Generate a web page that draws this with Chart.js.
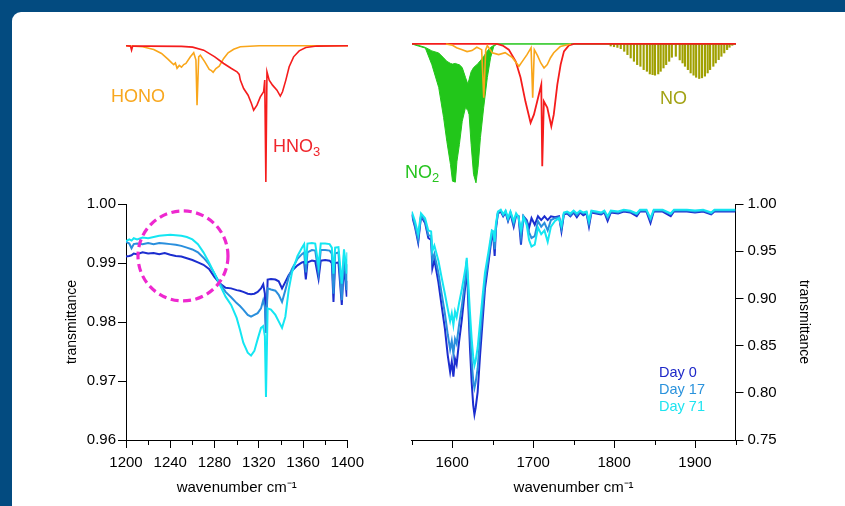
<!DOCTYPE html>
<html>
<head>
<meta charset="utf-8">
<script src="https://cdn.jsdelivr.net/npm/chart.js@4.4.1/dist/chart.umd.min.js"></script>
<style>
  html, body { margin: 0; padding: 0; }
  body { width: 845px; height: 506px; background: #034b80; position: relative; overflow: hidden;
         font-family: "Liberation Sans", Arial, Helvetica, sans-serif; }
  #panel { position: absolute; left: 12px; top: 12px; width: 833px; height: 494px; background: #fff;
           border-top-left-radius: 9px; }
  canvas { position: absolute; }
  .lbl { position: absolute; line-height: 1; white-space: nowrap; }
  .lbl sub { font-size: 0.72em; vertical-align: -0.32em; line-height: 0; }
</style>
</head>
<body>
<div id="panel"></div>
<canvas id="topLeft" width="222" height="147" style="left:126px; top:39px"></canvas>
<canvas id="topRight" width="324" height="150" style="left:412px; top:37px"></canvas>
<canvas id="bottomLeft" width="330" height="316" style="left:40px; top:190px"></canvas>
<canvas id="bottomRight" width="465" height="316" style="left:380px; top:190px"></canvas>

<div class="lbl" style="left:111px; top:87px; font-size:18px; color:#f8a71e">HONO</div>
<div class="lbl" style="left:273px; top:137px; font-size:18px; color:#f0262c">HNO<sub>3</sub></div>
<div class="lbl" style="left:405px; top:163px; font-size:18px; color:#26c41f">NO<sub>2</sub></div>
<div class="lbl" style="left:660px; top:89px; font-size:18px; color:#a2a214">NO</div>
<div class="lbl" style="left:659px; top:365px; font-size:14.5px; color:#1e28c8">Day 0</div>
<div class="lbl" style="left:659px; top:382px; font-size:14.5px; color:#2a92dc">Day 17</div>
<div class="lbl" style="left:659px; top:399px; font-size:14.5px; color:#1ee4f0">Day 71</div>

<script>
// reference spectra, relative transmittance (1 = baseline)
const honoLowX = [1200, 1215, 1225, 1232, 1238, 1241, 1243, 1244.5, 1246, 1248, 1250, 1252, 1254, 1258, 1261, 1263, 1264, 1265.5, 1267, 1271, 1275, 1277, 1278.5, 1281, 1284, 1288, 1292, 1297, 1303, 1320, 1400];
const honoLowY = [1.0, 0.993, 0.973, 0.944, 0.900, 0.876, 0.862, 0.874, 0.835, 0.856, 0.843, 0.862, 0.870, 0.919, 0.949, 0.895, 0.564, 0.919, 0.931, 0.882, 0.826, 0.818, 0.806, 0.833, 0.850, 0.907, 0.949, 0.975, 0.993, 1.0, 1.0];

const hno3LowX = [1200, 1204, 1205, 1206, 1220, 1250, 1260, 1270, 1280, 1288, 1295, 1300, 1302, 1303, 1306, 1310, 1313, 1315, 1318, 1321, 1324, 1325, 1326, 1327, 1329, 1332, 1336, 1339, 1341, 1344, 1347, 1351, 1356, 1362, 1372, 1400];
const hno3LowY = [1.0, 0.998, 0.968, 0.998, 0.998, 0.996, 0.990, 0.968, 0.919, 0.870, 0.833, 0.809, 0.790, 0.748, 0.686, 0.637, 0.576, 0.527, 0.564, 0.625, 0.662, 0.748, 0.0, 0.809, 0.748, 0.711, 0.674, 0.630, 0.662, 0.748, 0.846, 0.919, 0.963, 0.988, 0.998, 1.0];

const honoHighX = [1592, 1600, 1605, 1612, 1618, 1624, 1630, 1636, 1638.6, 1641, 1643, 1649, 1657, 1665, 1674, 1682, 1686, 1692, 1697, 1699, 1701, 1705, 1709, 1713, 1717, 1721, 1725, 1733, 1746];
const honoHighY = [1.0, 0.990, 0.973, 0.959, 0.945, 0.952, 0.976, 0.959, 0.612, 0.959, 0.988, 0.937, 0.923, 0.937, 0.901, 0.839, 0.873, 0.923, 0.973, 0.612, 0.959, 0.916, 0.863, 0.827, 0.851, 0.901, 0.937, 0.981, 1.0];

const hno3HighX = [1550, 1655, 1662, 1669.5, 1678, 1684, 1690, 1696.4, 1700.5, 1704.6, 1709.6, 1710.8, 1712.8, 1717, 1722, 1725, 1729.4, 1733.5, 1737.6, 1743.7, 1750, 1950];
const hno3HighY = [1.0, 1.0, 0.988, 0.959, 0.875, 0.758, 0.587, 0.432, 0.491, 0.587, 0.707, 0.12, 0.587, 0.542, 0.407, 0.491, 0.707, 0.851, 0.947, 0.990, 1.0, 1.0];

const no2X = [1550, 1555, 1566.5, 1574.5, 1583, 1589, 1593, 1597.5, 1600, 1603.5, 1605.5, 1608.5, 1612, 1616, 1619, 1620.5, 1623, 1626, 1629, 1631.5, 1634.5, 1638.5, 1643, 1647, 1651, 1655, 1950];
const no2Upper = [1.0, 0.995, 0.975, 0.950, 0.935, 0.900, 0.875, 0.860, 0.855, 0.860, 0.855, 0.850, 0.830, 0.760, 0.710, 0.745, 0.800, 0.830, 0.845, 0.860, 0.880, 0.910, 0.950, 0.975, 0.990, 1.0, 1.0];
const no2Lower = [1.0, 0.990, 0.970, 0.851, 0.686, 0.470, 0.299, 0.132, 0.012, 0.005, 0.155, 0.276, 0.443, 0.542, 0.520, 0.491, 0.276, 0.060, 0.0, 0.110, 0.326, 0.542, 0.758, 0.901, 0.983, 1.0, 1.0];

const noLineX = [1795.3, 1799.4, 1803.6, 1807.7, 1812, 1816, 1820, 1824, 1828, 1832, 1836, 1840, 1843.6, 1847, 1850, 1854, 1857, 1860.5, 1863.8, 1867.5, 1870.8, 1875.7, 1880.5, 1884, 1887, 1890.6, 1894, 1897.6, 1900.8, 1904.6, 1908, 1911.6, 1915, 1918, 1922, 1925, 1928.6, 1932, 1935.5, 1939, 1942, 1945.4];
const noLineY = [0.985, 0.980, 0.975, 0.966, 0.947, 0.923, 0.899, 0.875, 0.851, 0.839, 0.815, 0.803, 0.784, 0.779, 0.775, 0.784, 0.803, 0.827, 0.851, 0.875, 0.904, 0.911, 0.885, 0.863, 0.839, 0.815, 0.791, 0.775, 0.760, 0.751, 0.756, 0.768, 0.791, 0.815, 0.839, 0.863, 0.887, 0.911, 0.935, 0.959, 0.976, 0.990];

// aged samples, 1200-1400 cm-1
const lowX = [1200, 1203, 1205, 1207, 1210, 1215, 1220, 1225, 1230, 1235, 1240, 1245, 1250, 1255, 1260, 1265, 1270, 1275, 1280, 1285, 1290, 1295, 1300, 1303, 1306, 1310, 1313, 1316, 1319, 1322, 1324, 1325.5, 1326.5, 1328, 1331, 1335, 1338, 1341, 1344, 1347, 1350, 1355, 1359, 1361, 1362.5, 1364, 1368, 1371, 1374, 1376, 1380, 1384, 1386, 1387.5, 1389, 1392, 1395, 1397, 1399.5, 1400];
const lowDay0 = [0.9911, 0.9912, 0.9913, 0.9916, 0.9915, 0.9918, 0.9916, 0.9917, 0.9915, 0.9917, 0.9914, 0.9912, 0.9911, 0.9908, 0.9905, 0.9901, 0.9897, 0.9890, 0.9876, 0.9865, 0.9858, 0.9857, 0.9854, 0.9853, 0.9851, 0.9848, 0.9847, 0.9848, 0.9851, 0.9857, 0.9864, 0.9848, 0.9782, 0.9872, 0.9873, 0.9872, 0.9869, 0.9857, 0.9868, 0.9879, 0.9887, 0.9896, 0.9901, 0.9902, 0.9872, 0.9901, 0.9904, 0.9903, 0.9873, 0.9904, 0.9905, 0.9904, 0.9900, 0.9834, 0.9900, 0.9901, 0.9829, 0.9898, 0.9843, 0.9870];
const lowDay17 = [0.9936, 0.9933, 0.9925, 0.9932, 0.9933, 0.9932, 0.9934, 0.9932, 0.9934, 0.9933, 0.9932, 0.9931, 0.9929, 0.9926, 0.9923, 0.9918, 0.9909, 0.9898, 0.9882, 0.9865, 0.9851, 0.9842, 0.9832, 0.9827, 0.9821, 0.9812, 0.9809, 0.9812, 0.9815, 0.9823, 0.9837, 0.9826, 0.9782, 0.9857, 0.9855, 0.9853, 0.9846, 0.9834, 0.9854, 0.9876, 0.9890, 0.9907, 0.9915, 0.9918, 0.9884, 0.9918, 0.9922, 0.9921, 0.9882, 0.9922, 0.9922, 0.9921, 0.9916, 0.9848, 0.9916, 0.9918, 0.9837, 0.9915, 0.9854, 0.9898];
const lowDay71 = [0.9937, 0.9940, 0.9938, 0.9942, 0.9940, 0.9943, 0.9942, 0.9944, 0.9946, 0.9947, 0.9948, 0.9947, 0.9946, 0.9944, 0.9940, 0.9932, 0.9918, 0.9901, 0.9882, 0.9862, 0.9843, 0.9829, 0.9807, 0.9787, 0.9765, 0.9748, 0.9743, 0.9751, 0.9771, 0.9790, 0.9793, 0.9776, 0.9673, 0.9823, 0.9821, 0.9812, 0.9801, 0.9790, 0.9809, 0.9854, 0.9884, 0.9912, 0.9926, 0.9932, 0.9898, 0.9933, 0.9934, 0.9933, 0.9895, 0.9933, 0.9933, 0.9932, 0.9926, 0.9882, 0.9926, 0.9927, 0.9865, 0.9923, 0.9882, 0.9918];

// aged samples, 1550-1950 cm-1
const highX = [1550, 1554, 1558, 1561.5, 1566.5, 1570.5, 1574, 1575.5, 1578, 1583, 1587, 1591, 1594.5, 1597.5, 1599.5, 1601.5, 1603.5, 1605.5, 1608.5, 1612, 1615, 1617, 1618, 1620, 1622, 1624, 1626, 1627.5, 1629, 1631.5, 1634.5, 1637.5, 1640.5, 1645, 1649, 1651, 1652.5, 1654, 1656.5, 1660, 1663, 1666, 1669, 1672, 1676, 1679, 1682, 1685, 1688, 1692, 1695, 1698, 1702, 1706, 1710, 1714, 1718, 1722, 1727, 1732, 1735, 1738, 1742, 1746, 1750, 1754, 1758, 1762, 1766, 1769, 1772, 1778, 1784, 1788, 1792, 1796, 1805, 1812, 1820, 1828, 1832, 1840, 1845, 1849, 1860, 1870, 1874, 1890, 1900, 1910, 1920, 1924, 1940, 1950];
const highDay0 = [0.9885, 0.976, 0.959, 0.987, 0.980, 0.964, 0.962, 0.932, 0.941, 0.917, 0.892, 0.868, 0.840, 0.822, 0.833, 0.817, 0.836, 0.830, 0.854, 0.878, 0.903, 0.920, 0.938, 0.892, 0.847, 0.812, 0.787, 0.777, 0.784, 0.801, 0.840, 0.875, 0.910, 0.939, 0.966, 0.963, 0.945, 0.973, 0.990, 0.992, 0.987, 0.991, 0.982, 0.990, 0.976, 0.988, 0.987, 0.957, 0.987, 0.983, 0.975, 0.985, 0.978, 0.987, 0.983, 0.987, 0.983, 0.987, 0.986, 0.987, 0.971, 0.989, 0.990, 0.987, 0.991, 0.986, 0.991, 0.988, 0.990, 0.976, 0.991, 0.990, 0.989, 0.991, 0.982, 0.991, 0.990, 0.992, 0.991, 0.987, 0.992, 0.992, 0.980, 0.992, 0.992, 0.987, 0.992, 0.992, 0.991, 0.992, 0.989, 0.992, 0.992, 0.992];
const highDay17 = [0.990, 0.978, 0.962, 0.988, 0.982, 0.967, 0.966, 0.940, 0.947, 0.927, 0.905, 0.884, 0.862, 0.846, 0.855, 0.841, 0.857, 0.852, 0.872, 0.892, 0.912, 0.926, 0.940, 0.903, 0.865, 0.835, 0.813, 0.805, 0.811, 0.826, 0.859, 0.889, 0.918, 0.944, 0.969, 0.967, 0.952, 0.976, 0.991, 0.993, 0.988, 0.992, 0.983, 0.991, 0.979, 0.989, 0.987, 0.965, 0.987, 0.981, 0.970, 0.964, 0.966, 0.982, 0.976, 0.980, 0.972, 0.983, 0.985, 0.986, 0.974, 0.990, 0.991, 0.988, 0.992, 0.988, 0.992, 0.990, 0.991, 0.979, 0.992, 0.991, 0.990, 0.992, 0.985, 0.992, 0.991, 0.993, 0.992, 0.989, 0.993, 0.993, 0.983, 0.993, 0.993, 0.989, 0.993, 0.993, 0.992, 0.993, 0.990, 0.993, 0.993, 0.993];
const highDay71 = [0.992, 0.982, 0.968, 0.990, 0.985, 0.972, 0.971, 0.950, 0.956, 0.940, 0.922, 0.905, 0.889, 0.876, 0.884, 0.872, 0.886, 0.880, 0.895, 0.910, 0.925, 0.935, 0.943, 0.915, 0.885, 0.858, 0.838, 0.829, 0.834, 0.848, 0.875, 0.902, 0.927, 0.950, 0.972, 0.971, 0.960, 0.979, 0.992, 0.994, 0.989, 0.993, 0.985, 0.992, 0.982, 0.990, 0.986, 0.972, 0.986, 0.978, 0.962, 0.955, 0.957, 0.975, 0.968, 0.972, 0.960, 0.976, 0.982, 0.985, 0.977, 0.991, 0.992, 0.990, 0.993, 0.990, 0.993, 0.991, 0.992, 0.982, 0.993, 0.992, 0.991, 0.993, 0.987, 0.993, 0.992, 0.994, 0.993, 0.990, 0.994, 0.994, 0.985, 0.994, 0.994, 0.990, 0.994, 0.994, 0.993, 0.994, 0.991, 0.994, 0.994, 0.994];

// axis ticks
const lowXTicks = [1200, 1240, 1280, 1320, 1360, 1400];
const lowXMinor = [1220, 1260, 1300, 1340, 1380];
const lowYTicks = [0.96, 0.97, 0.98, 0.99, 1.00];
const highXTicks = [1600, 1700, 1800, 1900];
const highXMinor = [1550, 1650, 1750, 1850, 1950];
const highYTicks = [0.75, 0.80, 0.85, 0.90, 0.95, 1.00];

const ORANGE = '#f9a61a';
const RED = '#f51c1c';
const GREEN = '#22c61a';
const OLIVE = '#a0a000';
const DAY0 = '#1b2dcf';
const DAY17 = '#2a8fdd';
const DAY71 = '#14e6f2';

Chart.defaults.font.family = '"Liberation Sans", Arial, Helvetica, sans-serif';
Chart.defaults.color = '#000';

function pts(xs, ys) {
  return xs.map((x, i) => ({ x: x, y: ys[i] }));
}

function spectrumOptions(xmin, xmax) {
  return {
    responsive: false,
    animation: false,
    devicePixelRatio: 1,
    events: [],
    layout: { padding: 0 },
    plugins: { legend: { display: false }, tooltip: { enabled: false } },
    elements: { point: { radius: 0 }, line: { tension: 0 } },
    scales: {
      x: { type: 'linear', min: xmin, max: xmax, display: false, offset: false, grid: { offset: false } },
      y: { type: 'linear', min: -0.03, max: 1.05, display: false }
    }
  };
}

// short unlabeled ticks between the labelled ones
const minorTicks = {
  id: 'minorTicks',
  afterDraw(chart, args, opts) {
    const sx = chart.scales.x;
    const ctx = chart.ctx;
    ctx.save();
    ctx.strokeStyle = '#000';
    ctx.lineWidth = 1;
    ctx.beginPath();
    opts.values.forEach((v) => {
      const px = Math.round(sx.getPixelForValue(v)) + 0.5;
      ctx.moveTo(px, sx.top);
      ctx.lineTo(px, sx.top + opts.length);
    });
    ctx.stroke();
    ctx.restore();
  }
};

const dashedCircle = {
  id: 'dashedCircle',
  afterDatasetsDraw(chart, args, opts) {
    const ctx = chart.ctx;
    const cx = chart.scales.x.getPixelForValue(opts.center[0]);
    const cy = chart.scales.y.getPixelForValue(opts.center[1]);
    ctx.save();
    ctx.setLineDash([8, 4.5]);
    ctx.lineWidth = 3.2;
    ctx.strokeStyle = '#ee28cf';
    ctx.beginPath();
    ctx.arc(cx, cy, opts.radius, 0, Math.PI * 2);
    ctx.stroke();
    ctx.restore();
  }
};

function tickScale(ticks) {
  return (scale) => { scale.ticks = ticks.map((v) => ({ value: v })); };
}

new Chart(document.getElementById('topLeft'), {
  type: 'line',
  data: {
    datasets: [
      { label: 'HNO3', data: pts(hno3LowX, hno3LowY), borderColor: RED, borderWidth: 1.6, order: 0 },
      { label: 'HONO', data: pts(honoLowX, honoLowY), borderColor: ORANGE, borderWidth: 1.6, order: 1 }
    ]
  },
  options: spectrumOptions(1200, 1400)
});

new Chart(document.getElementById('topRight'), {
  type: 'line',
  data: {
    datasets: [
      { label: 'HONO', data: pts(honoHighX, honoHighY), borderColor: ORANGE, borderWidth: 1.6, order: 0 },
      { label: 'HNO3', data: pts(hno3HighX, hno3HighY), borderColor: RED, borderWidth: 1.8, order: 1 },
      { label: 'NO2', data: pts(no2X, no2Upper), borderColor: GREEN, borderWidth: 1, order: 2 },
      { label: 'NO2 band', data: pts(no2X, no2Lower), borderColor: GREEN, borderWidth: 1,
        backgroundColor: GREEN, fill: '-1', order: 2 },
      { type: 'bar', label: 'NO', data: noLineX.map((x, i) => ({ x: x, y: [noLineY[i], 1] })),
        backgroundColor: OLIVE, barThickness: 1.5, order: 3 }
    ]
  },
  options: spectrumOptions(1550, 1950)
});

const tickFont = { size: 15 };
const plainNumber = (v) => String(v);

new Chart(document.getElementById('bottomLeft'), {
  type: 'line',
  data: {
    datasets: [
      { label: 'Day 71', data: pts(lowX, lowDay71), borderColor: DAY71, borderWidth: 2, order: 0 },
      { label: 'Day 17', data: pts(lowX, lowDay17), borderColor: DAY17, borderWidth: 2, order: 1 },
      { label: 'Day 0', data: pts(lowX, lowDay0), borderColor: DAY0, borderWidth: 2, order: 2 }
    ]
  },
  options: {
    responsive: false,
    animation: false,
    devicePixelRatio: 1,
    events: [],
    layout: { padding: { top: 14, right: 22.5, left: 0, bottom: 0 } },
    plugins: {
      legend: { display: false },
      tooltip: { enabled: false },
      minorTicks: { values: lowXMinor, length: 5 },
      dashedCircle: { center: [1251.5, 0.9912], radius: 45 }
    },
    elements: { point: { radius: 0 }, line: { tension: 0 } },
    scales: {
      x: {
        type: 'linear', min: 1200, max: 1400, offset: false,
        afterBuildTicks: tickScale(lowXTicks),
        afterFit: (s) => { s.height = 66; },
        grid: { drawOnChartArea: false, tickLength: 8, tickColor: '#000', offset: false },
        border: { color: '#000', width: 1 },
        ticks: { font: tickFont, color: '#000', padding: 6, maxRotation: 0, autoSkip: false,
                 callback: plainNumber },
        title: { display: true, text: 'wavenumber cm\u207B\u00B9', font: { size: 15 }, color: '#000',
                 padding: { top: 0, bottom: 9 } }
      },
      y: {
        type: 'linear', min: 0.96, max: 1.0,
        afterBuildTicks: tickScale(lowYTicks),
        afterFit: (s) => { s.width = 86; },
        grid: { drawOnChartArea: false, tickLength: 8, tickColor: '#000' },
        border: { color: '#000', width: 1 },
        ticks: { font: tickFont, color: '#000', padding: 2, callback: (v) => v.toFixed(2) },
        title: { display: true, text: 'transmittance', font: { size: 14 }, color: '#000',
                 padding: { top: 24, bottom: 0 } }
      }
    }
  },
  plugins: [minorTicks, dashedCircle]
});

new Chart(document.getElementById('bottomRight'), {
  type: 'line',
  data: {
    datasets: [
      { label: 'Day 71', data: pts(highX, highDay71), borderColor: DAY71, borderWidth: 2, order: 0 },
      { label: 'Day 17', data: pts(highX, highDay17), borderColor: DAY17, borderWidth: 2, order: 1 },
      { label: 'Day 0', data: pts(highX, highDay0), borderColor: DAY0, borderWidth: 2, order: 2 }
    ]
  },
  options: {
    responsive: false,
    animation: false,
    devicePixelRatio: 1,
    events: [],
    layout: { padding: { top: 14, right: 0, left: 31.7, bottom: 0 } },
    plugins: {
      legend: { display: false },
      tooltip: { enabled: false },
      minorTicks: { values: highXMinor, length: 5 }
    },
    elements: { point: { radius: 0 }, line: { tension: 0 } },
    scales: {
      x: {
        type: 'linear', min: 1550, max: 1950, offset: false,
        afterBuildTicks: tickScale(highXTicks),
        afterFit: (s) => { s.height = 66; },
        grid: { drawOnChartArea: false, tickLength: 8, tickColor: '#000', offset: false },
        border: { color: '#000', width: 1 },
        ticks: { font: tickFont, color: '#000', padding: 6, maxRotation: 0, autoSkip: false,
                 callback: plainNumber },
        title: { display: true, text: 'wavenumber cm\u207B\u00B9', font: { size: 15 }, color: '#000',
                 padding: { top: 0, bottom: 9 } }
      },
      y: {
        type: 'linear', position: 'right', min: 0.75, max: 1.0,
        afterBuildTicks: tickScale(highYTicks),
        afterFit: (s) => { s.width = 109.5; },
        grid: { drawOnChartArea: false, tickLength: 8, tickColor: '#000' },
        border: { color: '#000', width: 1 },
        ticks: { font: tickFont, color: '#000', padding: 4, callback: (v) => v.toFixed(2) },
        title: { display: true, text: 'transmittance', font: { size: 14 }, color: '#000',
                 padding: { top: 33, bottom: 0 } }
      }
    }
  },
  plugins: [minorTicks]
});
</script>
</body>
</html>
